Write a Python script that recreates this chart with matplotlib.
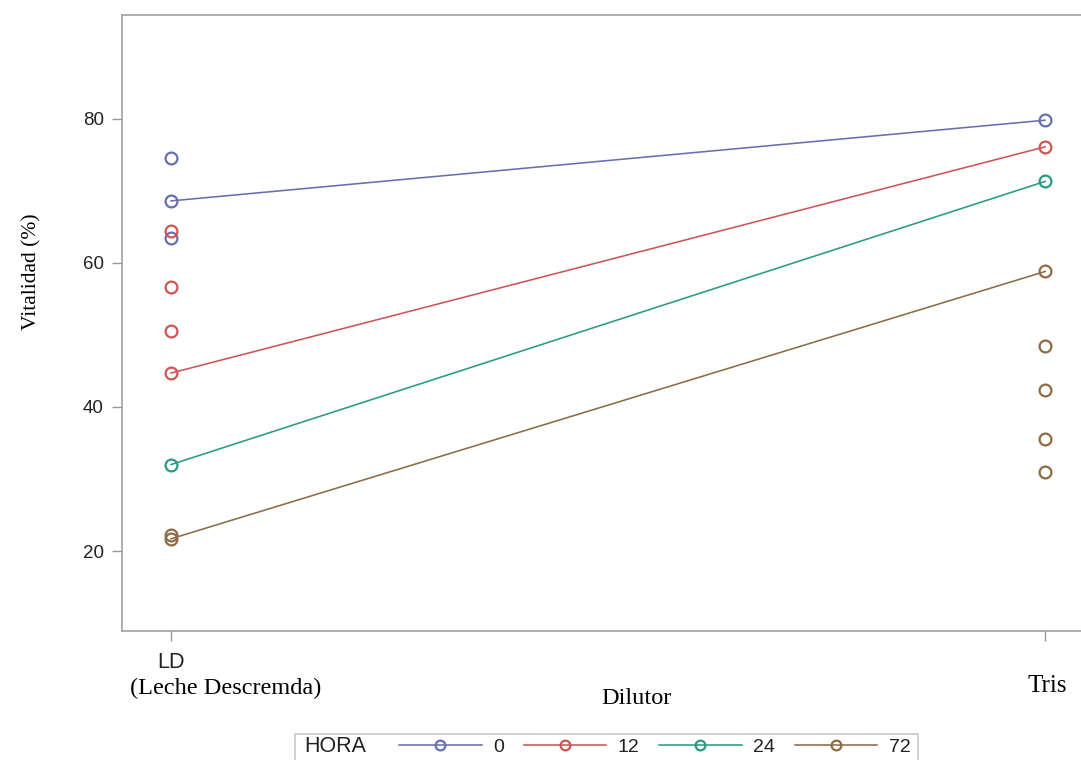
import matplotlib
matplotlib.use("Agg")
import matplotlib.pyplot as plt
from matplotlib.lines import Line2D
from matplotlib.patches import Rectangle

# vitality (%) by diluent and storage hour
hours = ["0", "12", "24", "72"]
colors = ["#6670b0", "#cc5656", "#2a9a86", "#8e6b45"]

ld_obs = [[74.6, 68.6, 63.5],
          [64.4, 56.6, 50.6, 44.7],
          [32.0],
          [22.2, 21.7]]
tris_obs = [[79.8],
            [76.1],
            [71.3],
            [58.8, 48.4, 42.4, 35.5, 31.0]]

ld_line = [68.6, 44.7, 32.0, 21.7]
tris_line = [79.8, 76.1, 71.3, 58.8]

sans = "Liberation Sans"
serif = "Liberation Serif"

W, H = 1081, 760
fig = plt.figure(figsize=(W / 100, H / 100), dpi=100)
ax = fig.add_axes([122 / W, 1 - 631 / H, 962 / W, (631 - 15) / H])

for i, h in enumerate(hours):
    ax.plot([0, 1], [ld_line[i], tris_line[i]], color=colors[i], lw=1.15, zorder=2)
    ax.plot([0] * len(ld_obs[i]), ld_obs[i], "o", mfc="none", mec=colors[i],
            ms=8.5, mew=1.6, zorder=3)
    ax.plot([1] * len(tris_obs[i]), tris_obs[i], "o", mfc="none", mec=colors[i],
            ms=8.5, mew=1.6, zorder=3)

ax.set_xlim(-0.0561, 1.0445)
ax.set_ylim(8.9, 94.4)
ax.set_yticks([20, 40, 60, 80])
ax.set_yticklabels(["20", "40", "60", "80"], fontfamily=sans, fontsize=13.5, color="#222222")
ax.set_xticks([0, 1])
ax.set_xticklabels(["", ""])
ax.tick_params(length=7, width=1, color="#999999", pad=6)
for s in ax.spines.values():
    s.set_color("#a0a0a0")
    s.set_linewidth(1.2)

ax.set_ylabel("Vitalidad (%)", fontfamily=serif, fontsize=15.5)
ax.yaxis.set_label_coords(-0.0842, 0.583)

# category labels below the axis
fig.text(171 / W, 1 - 662 / H, "LD", fontfamily=sans, fontsize=15.5, color="#222222",
         ha="center", va="center")
fig.text(130 / W, 1 - 688 / H, "(Leche Descremda)", fontfamily=serif, fontsize=17.5,
         ha="left", va="center")
fig.text(1047 / W, 1 - 686 / H, "Tris", fontfamily=serif, fontsize=18,
         ha="center", va="center")
fig.text(636 / W, 1 - 698 / H, "Dilutor", fontfamily=serif, fontsize=17.5,
         ha="center", va="center")

# legend strip at the bottom
fig.patches.append(Rectangle((295 / W, -0.02), (918 - 295) / W, (760 - 734) / H + 0.02,
                             transform=fig.transFigure, fill=False,
                             edgecolor="#c8c8c8", lw=1.2))
fig.text(304 / W, 1 - 747 / H, "HORA", fontfamily=sans, fontsize=15.5, color="#222222",
         ha="left", va="center")
handles = [Line2D([], [], color=c, lw=1.15, marker="o", mfc="none", mec=c, ms=7, mew=1.6)
           for c in colors]
fig.legend(handles, hours, loc="center left", bbox_to_anchor=(399 / W, 1 - 747 / H),
           ncol=4, frameon=False, borderpad=0, borderaxespad=0,
           handlelength=4.25, handletextpad=0.6, columnspacing=1.0,
           prop={"family": sans, "size": 14})
for t in fig.legends[0].get_texts():
    t.set_color("#222222")

fig.savefig("out.png", dpi=100)
